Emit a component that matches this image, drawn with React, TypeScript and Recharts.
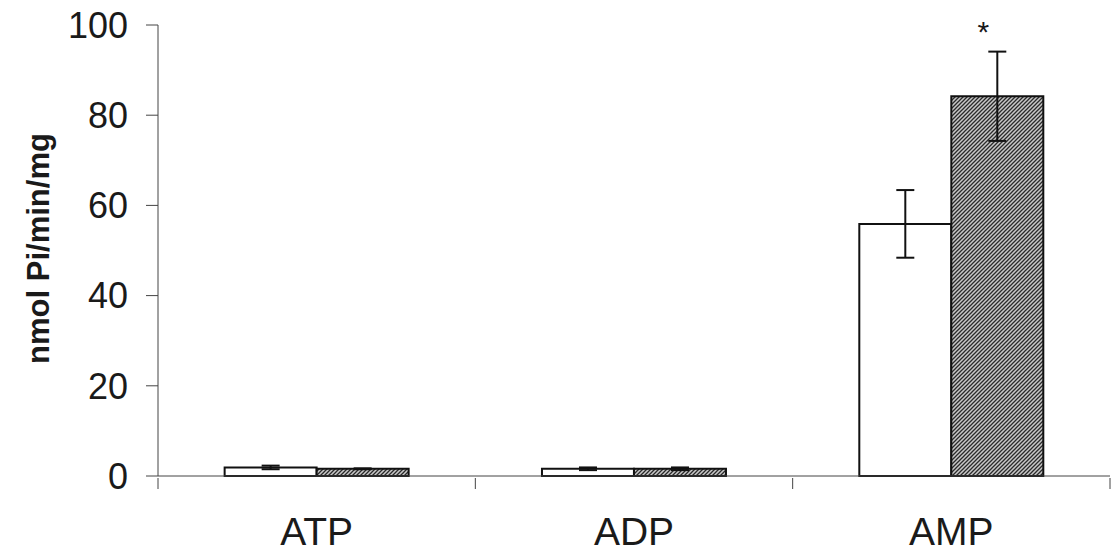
import { BarChart, Bar, XAxis, YAxis, ErrorBar, LabelList, Label } from 'recharts';

const categories = ['ATP', 'ADP', 'AMP'];
const controlValues = [1.9, 1.6, 55.9];
const controlErrors = [0.4, 0.3, 7.5];
const treatedValues = [1.6, 1.6, 84.2];
const treatedErrors = [0.1, 0.3, 9.9];
const significance = ['', '', '*'];
const yTicks = [0, 20, 40, 60, 80, 100];

const data = categories.map((name, i) => ({
  name,
  control: controlValues[i],
  controlErr: controlErrors[i],
  treated: treatedValues[i],
  treatedErr: treatedErrors[i],
  sig: significance[i],
}));

const FONT = '"Liberation Sans", Arial, sans-serif';

// label in the middle of the band, tick marks on the band edges
const CategoryTick = (props: any) => {
  const { x, y, payload, index, visibleTicksCount } = props;
  const half = payload.offset || 0;
  const last = index === (visibleTicksCount || categories.length) - 1;
  return (
    <g>
      <line x1={x - half} x2={x - half} y1={y} y2={y + 11} stroke="#444" strokeWidth={1} />
      {last && <line x1={x + half} x2={x + half} y1={y} y2={y + 11} stroke="#444" strokeWidth={1} />}
      <text x={x} y={y + 67} textAnchor="middle" fontFamily={FONT} fontSize={39} fill="#1a1a1a">
        {payload.value}
      </text>
    </g>
  );
};

const StarLabel = (props: any) => {
  const { x, y, width, value } = props;
  if (!value) return null;
  return (
    <text x={x + width / 2 - 14} y={y - 54} textAnchor="middle" fontFamily={FONT} fontSize={30} fill="#1a1a1a">
      {value}
    </text>
  );
};

const App = () => {
  return (
    <div style={{ position: 'absolute', left: 0, top: 0, width: 1113, height: 556, background: '#fff' }}>
      <BarChart
        width={1113}
        height={556}
        data={data}
        margin={{ top: 25, right: 3, bottom: 0, left: 0 }}
        barCategoryGap="21%"
        barGap={0}
      >
        <defs>
          <pattern id="hatch" patternUnits="userSpaceOnUse" width="4" height="4">
            <rect width="4" height="4" fill="#c8c8c8" />
            <path d="M-1,1 l2,-2 M0,4 l4,-4 M3,5 l2,-2" stroke="#2a2a2a" strokeWidth={1.3} />
          </pattern>
        </defs>
        <XAxis
          dataKey="name"
          height={80}
          tickLine={false}
          tickSize={0}
          tick={<CategoryTick />}
          interval={0}
          axisLine={{ stroke: '#444', strokeWidth: 1 }}
        />
        <YAxis
          width={158}
          domain={[0, 100]}
          ticks={yTicks}
          tickSize={12}
          tickMargin={18}
          axisLine={{ stroke: '#444', strokeWidth: 1 }}
          tickLine={{ stroke: '#444', strokeWidth: 1 }}
          tick={{ fontFamily: FONT, fontSize: 36, fill: '#1a1a1a' }}
        >
          <Label
            content={(p: any) => {
              const vb = p.viewBox;
              const cx = vb.x + 38;
              const cy = vb.y + vb.height / 2 - 2;
              return (
                <text
                  x={cx}
                  y={cy}
                  transform={`rotate(-90 ${cx} ${cy})`}
                  textAnchor="middle"
                  dominantBaseline="central"
                  fontFamily={FONT}
                  fontWeight="bold"
                  fontSize={31}
                  fill="#1a1a1a"
                >
                  nmol Pi/min/mg
                </text>
              );
            }}
          />
        </YAxis>
        <Bar dataKey="control" fill="#ffffff" stroke="#111" strokeWidth={2} isAnimationActive={false}>
          <ErrorBar dataKey="controlErr" width={9} stroke="#111" strokeWidth={2} isAnimationActive={false} />
        </Bar>
        <Bar dataKey="treated" fill="url(#hatch)" stroke="#111" strokeWidth={2} isAnimationActive={false}>
          <ErrorBar dataKey="treatedErr" width={9} stroke="#111" strokeWidth={2} isAnimationActive={false} />
          <LabelList dataKey="sig" content={<StarLabel />} />
        </Bar>
      </BarChart>
    </div>
  );
};

export default App;
